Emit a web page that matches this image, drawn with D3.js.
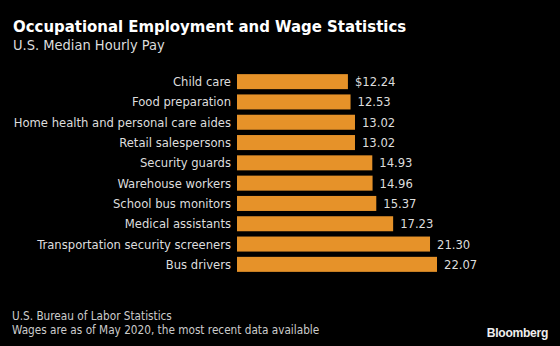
<!DOCTYPE html>
<html><head><meta charset="utf-8">
<script src="https://cdn.jsdelivr.net/npm/d3@7"></script>
<style>html,body{margin:0;padding:0;background:#000;}svg{display:block;}</style>
</head><body>
<script>
const categories = ["Child care","Food preparation","Home health and personal care aides","Retail salespersons","Security guards","Warehouse workers","School bus monitors","Medical assistants","Transportation security screeners","Bus drivers"];
const values = [12.24,12.53,13.02,13.02,14.93,14.96,15.37,17.23,21.30,22.07];
const valueLabels = ["$12.24","12.53","13.02","13.02","14.93","14.96","15.37","17.23","21.30","22.07"];

const W=560,H=346;
const font = "'DejaVu Sans Condensed','DejaVu Sans',sans-serif";
const svg = d3.select("body").append("svg").attr("width",W).attr("height",H).style("background","#000");

svg.append("text").attr("x",13).attr("y",32).attr("fill","#fff").attr("font-family",font)
  .attr("font-weight","bold").attr("font-size",16.6).text("Occupational Employment and Wage Statistics");
svg.append("text").attr("x",13).attr("y",50).attr("fill","#ddd").attr("font-family",font)
  .attr("font-size",14.5).text("U.S. Median Hourly Pay");

const x = d3.scaleLinear().domain([0,22.07]).range([237,437]);
const y = d3.scaleBand().domain(categories).range([71.5,274.5]).paddingInner(0.26).paddingOuter(0.13);

const g = svg.append("g");
g.selectAll("rect").data(values).join("rect")
  .attr("x",x(0)).attr("y",(d,i)=>y(categories[i]))
  .attr("width",d=>x(d)-x(0)).attr("height",y.bandwidth()).attr("fill","#e69229");

g.selectAll("text.cat").data(categories).join("text").attr("class","cat")
  .attr("x",231).attr("y",d=>y(d)+y.bandwidth()/2).attr("dy","0.35em")
  .attr("text-anchor","end").attr("fill","#ddd").attr("font-family",font).attr("font-size",12.9).text(d=>d);

g.selectAll("text.val").data(values).join("text").attr("class","val")
  .attr("x",d=>x(d)+7).attr("y",(d,i)=>y(categories[i])+y.bandwidth()/2).attr("dy","0.35em")
  .attr("fill","#ddd").attr("font-family",font).attr("font-size",12.9).text((d,i)=>valueLabels[i]);

svg.append("text").attr("x",12).attr("y",320).attr("fill","#ccc").attr("font-family",font)
  .attr("font-size",11.7).text("U.S. Bureau of Labor Statistics");
svg.append("text").attr("x",12).attr("y",334).attr("fill","#ccc").attr("font-family",font)
  .attr("font-size",11.7).text("Wages are as of May 2020, the most recent data available");
svg.append("text").attr("x",548).attr("y",337).attr("text-anchor","end").attr("fill","#eee")
  .attr("font-family","'Liberation Sans',Arial,sans-serif").attr("font-weight","bold").attr("font-size",12.1)
  .attr("letter-spacing",-0.3).text("Bloomberg");
</script>
</body></html>
